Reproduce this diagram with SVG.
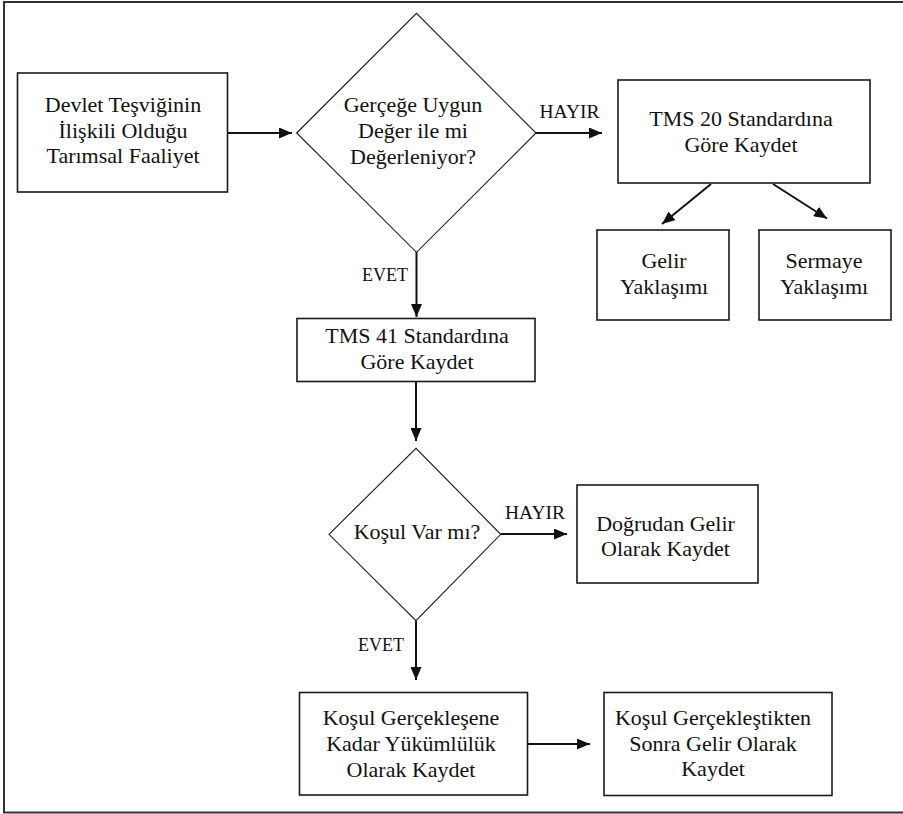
<svg xmlns="http://www.w3.org/2000/svg" width="903" height="814" viewBox="0 0 903 814">
<style>
.box{fill:#fff;stroke:#1a1a1a;stroke-width:1.6}
.dia{fill:#fff;stroke:#1a1a1a;stroke-width:1.1}
.t{font-family:'Liberation Serif','DejaVu Serif',serif;font-size:22px;fill:#111;text-anchor:middle}
.lbl{font-family:'Liberation Serif','DejaVu Serif',serif;font-size:18px;fill:#111;text-anchor:middle}
.h{font-size:19.5px}
.c{stroke:#111;stroke-width:2;fill:none;marker-end:url(#ah)}
</style>
<defs>
<marker id="ah" markerUnits="userSpaceOnUse" markerWidth="13" markerHeight="11" refX="13" refY="5.5" orient="auto">
<path d="M0,0 L13,5.5 L0,11 z" fill="#111"/>
</marker>
</defs>
<rect width="903" height="814" fill="#fff"/>
<path d="M903,2 L4,2 L4,812.5 L903,812.5" fill="none" stroke="#333" stroke-width="2"/>
<g id="connectors">
<line class="c" x1="227" y1="133" x2="292" y2="133"/>
<line class="c" x1="536" y1="133" x2="602" y2="133"/>
<line class="c" x1="711" y1="184" x2="662" y2="224"/>
<line class="c" x1="773" y1="184" x2="827" y2="218.5"/>
<line class="c" x1="416.5" y1="252" x2="416.5" y2="317"/>
<line class="c" x1="416" y1="382" x2="416" y2="441"/>
<line class="c" x1="501" y1="534" x2="567" y2="534"/>
<line class="c" x1="416" y1="621" x2="416" y2="680"/>
<line class="c" x1="528" y1="744" x2="590" y2="744"/>
<text class="lbl h" x="569.5" y="118">HAYIR</text>
<text class="lbl" x="385" y="281">EVET</text>
<text class="lbl h" x="535" y="519">HAYIR</text>
<text class="lbl" x="381" y="651">EVET</text>
</g>
<g id="n1">
<rect class="box" x="17.5" y="73" width="210" height="119"/>
<text class="t" x="123" y="112">Devlet Teşviğinin</text>
<text class="t" x="123" y="138">İlişkili Olduğu</text>
<text class="t" x="123" y="163">Tarımsal Faaliyet</text>
</g>
<g id="d1">
<polygon class="dia" points="296.7,133 416.5,13.3 536,133 416.5,252.3"/>
<text class="t" x="413" y="112">Gerçeğe Uygun</text>
<text class="t" x="413" y="138">Değer ile mi</text>
<text class="t" x="413" y="164">Değerleniyor?</text>
</g>
<g id="n2">
<rect class="box" x="618" y="80" width="252" height="103"/>
<text class="t" x="741" y="126">TMS 20 Standardına</text>
<text class="t" x="741" y="152">Göre Kaydet</text>
</g>
<g id="n3">
<rect class="box" x="597" y="230" width="132" height="90"/>
<text class="t" x="664" y="268">Gelir</text>
<text class="t" x="664" y="294">Yaklaşımı</text>
</g>
<g id="n4">
<rect class="box" x="759" y="230" width="132" height="90"/>
<text class="t" x="824" y="268">Sermaye</text>
<text class="t" x="824" y="294">Yaklaşımı</text>
</g>
<g id="n5">
<rect class="box" x="297" y="318.5" width="238" height="63"/>
<text class="t" x="417" y="343">TMS 41 Standardına</text>
<text class="t" x="417" y="369">Göre Kaydet</text>
</g>
<g id="d2">
<polygon class="dia" points="329,534.3 416,448.3 500.7,534.3 416,620.7"/>
<text class="t" x="417" y="539">Koşul Var mı?</text>
</g>
<g id="n6">
<rect class="box" x="577" y="485" width="181" height="98"/>
<text class="t" x="665.5" y="530.5">Doğrudan Gelir</text>
<text class="t" x="665.5" y="556">Olarak Kaydet</text>
</g>
<g id="n7">
<rect class="box" x="299.5" y="692.5" width="228" height="102.5"/>
<text class="t" x="411" y="725">Koşul Gerçekleşene</text>
<text class="t" x="411" y="751">Kadar Yükümlülük</text>
<text class="t" x="411" y="777">Olarak Kaydet</text>
</g>
<g id="n8">
<rect class="box" x="604" y="692.5" width="228" height="103"/>
<text class="t" x="713" y="725">Koşul Gerçekleştikten</text>
<text class="t" x="713" y="750.5">Sonra Gelir Olarak</text>
<text class="t" x="713" y="775.5">Kaydet</text>
</g>
</svg>
